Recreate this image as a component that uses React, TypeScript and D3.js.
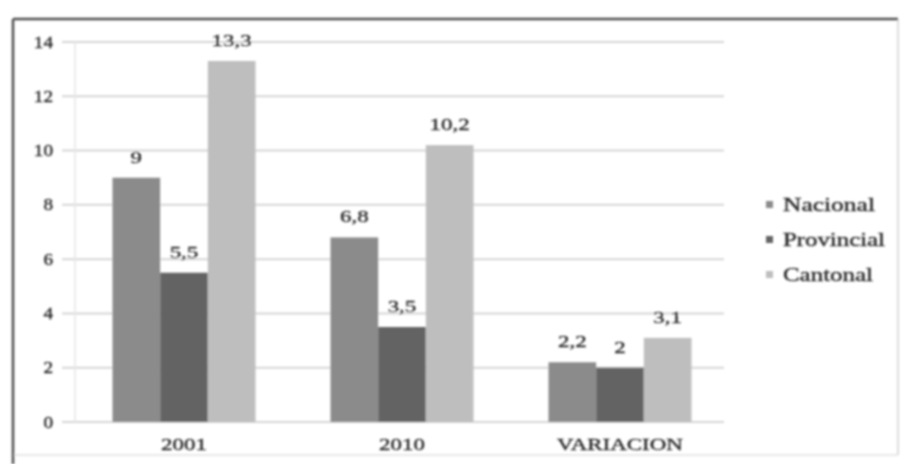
import React from "react";
import * as d3 from "d3";

const categories = ["2001", "2010", "VARIACION"];
const seriesNames = ["Nacional", "Provincial", "Cantonal"];
const nacional = [9, 6.8, 2.2];
const provincial = [5.5, 3.5, 2];
const cantonal = [13.3, 10.2, 3.1];
const valueLabels = [
  ["9", "6,8", "2,2"],
  ["5,5", "3,5", "2"],
  ["13,3", "10,2", "3,1"],
];
const yTicks = [0, 2, 4, 6, 8, 10, 12, 14];
const colors = ["#8b8b8b", "#646464", "#bebebe"];
const legendWidths = [92, 102, 90];

const W = 906;
const H = 464;
const font = "'Liberation Serif', 'DejaVu Serif', serif";
const textStyle = { stroke: "#2a2a2a", strokeWidth: 0.35 };

export default function App() {
  const series = [nacional, provincial, cantonal];
  const y = d3.scaleLinear().domain([0, 14]).range([422, 42]);
  const x0 = d3
    .scaleBand<string>()
    .domain(categories)
    .range([75, 729])
    .paddingInner(0.344)
    .paddingOuter(0.172);
  const x1 = d3
    .scaleBand<string>()
    .domain(seriesNames)
    .range([0, x0.bandwidth()])
    .padding(0);

  return (
    <svg
      width={W}
      height={H}
      style={{ position: "absolute", left: 0, top: 0, background: "#fff" }}
    >
      <defs>
        <filter id="scan" x="-5%" y="-5%" width="110%" height="110%">
          <feGaussianBlur stdDeviation="0.9" />
        </filter>
      </defs>
      <rect x={0} y={0} width={W} height={H} fill="#fff" />
      <g filter="url(#scan)">
        {/* frame */}
        <line x1={898} y1={19} x2={898} y2={455} stroke="#d0d0d0" strokeWidth={1.5} />
        <line x1={13} y1={455} x2={898} y2={455} stroke="#e0e0e0" strokeWidth={1.5} />
        <line x1={13} y1={19} x2={898} y2={19} stroke="#505050" strokeWidth={2.5} />
        <line x1={13} y1={19} x2={13} y2={H} stroke="#505050" strokeWidth={2.5} />

        {/* gridlines */}
        {yTicks.map((t) => (
          <line
            key={"g" + t}
            x1={62}
            x2={724}
            y1={y(t)}
            y2={y(t)}
            stroke="#d6d6d6"
            strokeWidth={2}
          />
        ))}
        <line x1={75} x2={75} y1={y(14)} y2={y(0)} stroke="#e6e6e6" strokeWidth={1.5} />

        {/* y tick labels */}
        {yTicks.map((t) => (
          <text
            key={"t" + t}
            x={53}
            y={y(t)}
            dy="0.35em"
            textAnchor="end"
            fontFamily={font}
            fontSize={16}
            fill="#2a2a2a"
            style={textStyle}
            transform={`translate(53,0) scale(1.2,1) translate(-53,0)`}
          >
            {t}
          </text>
        ))}

        {/* bars */}
        {categories.map((c, ci) => (
          <g key={c} transform={`translate(${x0(c)},0)`}>
            {seriesNames.map((s, si) => {
              const v = series[si][ci];
              const bx = x1(s) as number;
              const bw = x1.bandwidth();
              return (
                <g key={s}>
                  <rect
                    x={bx}
                    y={y(v)}
                    width={bw}
                    height={y(0) - y(v)}
                    fill={colors[si]}
                  />
                  <text
                    x={bx + bw / 2}
                    y={y(v) - 15}
                    textAnchor="middle"
                    fontFamily={font}
                    fontSize={17}
                    fill="#2a2a2a"
                    style={textStyle}
                    transform={`translate(${bx + bw / 2},0) scale(1.35,1) translate(${-(bx + bw / 2)},0)`}
                  >
                    {valueLabels[si][ci]}
                  </text>
                </g>
              );
            })}
          </g>
        ))}

        {/* category labels */}
        {categories.map((c) => {
          const cx = (x0(c) as number) + x0.bandwidth() / 2;
          return (
            <text
              key={"c" + c}
              x={cx}
              y={450}
              textAnchor="middle"
              fontFamily={font}
              fontSize={17}
              fill="#2a2a2a"
              style={textStyle}
              transform={`translate(${cx},0) scale(1.35,1) translate(${-cx},0)`}
            >
              {c}
            </text>
          );
        })}

        {/* legend */}
        {seriesNames.map((s, i) => {
          const ly = 205 + i * 35;
          return (
            <g key={"l" + s}>
              <rect x={766} y={ly - 4} width={7} height={7} fill={colors[i]} />
              <text
                x={783}
                y={ly}
                dy="0.35em"
                fontFamily={font}
                fontSize={18}
                fill="#2a2a2a"
                style={textStyle}
                textLength={legendWidths[i]}
                lengthAdjust="spacingAndGlyphs"
              >
                {s}
              </text>
            </g>
          );
        })}
      </g>
    </svg>
  );
}
